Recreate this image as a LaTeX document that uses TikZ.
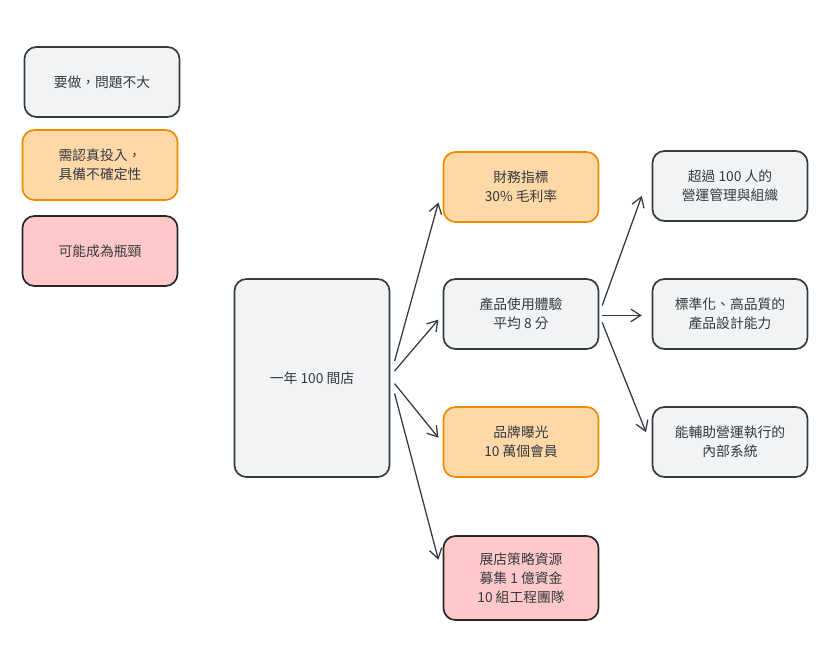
\documentclass[tikz,border=0pt]{standalone}
\usepackage{fontspec}
\newfontfamily\cjk{Noto Sans CJK TC}
\usetikzlibrary{positioning,arrows.meta}

\definecolor{ink}{HTML}{343A40}
\definecolor{grayfill}{HTML}{F1F3F5}
\definecolor{orangefill}{HTML}{FFD8A8}
\definecolor{orangeline}{HTML}{F08C00}
\definecolor{pinkfill}{HTML}{FFC9C9}

\tikzset{
  card/.style={draw=ink, line width=1.2pt, rounded corners=0.3cm, fill=grayfill,
    minimum width=3.875cm, minimum height=1.75cm, align=center, text=ink,
    font=\cjk\fontsize{9.8}{13.5}\selectfont, inner sep=0pt},
  warm/.style={card, draw=orangeline, fill=orangefill},
  risk/.style={card, draw=black!85, fill=pinkfill},
  arr/.style={draw=ink, line width=0.9pt, -{Straight Barb[length=7pt,width=9pt]}},
}

\begin{document}
\begin{tikzpicture}[x=0.025cm,y=-0.025cm]
  \useasboundingbox (0,0) rectangle (830,657);

  % legend
  \node[card] (ok)    at (102,82)  {要做，問題不大};
  \node[warm] (hard)  at (100,165) {需認真投入，\\具備不確定性};
  \node[risk] (block) at (100,251) {可能成為瓶頸};

  % goal and its needs
  \node[card, minimum height=4.95cm] (goal) at (312,378) {一年 100 間店};
  \node[warm] (fin)   at (521,187) {財務指標\\30\% 毛利率};
  \node[card] (exp)   at (521,314) {產品使用體驗\\平均 8 分};
  \node[warm] (brand) at (521,442) {品牌曝光\\10 萬個會員};
  \node[risk, minimum height=2.1cm] (res) at (521,578) {展店策略資源\\募集 1 億資金\\10 組工程團隊};

  \node[card] (org)   at (730,186) {超過 100 人的\\營運管理與組織};
  \node[card] (des)   at (730,314) {標準化、高品質的\\產品設計能力};
  \node[card] (sys)   at (730,442) {能輔助營運執行的\\內部系統};

  \draw[arr] ([xshift=3pt,yshift=12pt]goal.east)  -- ([xshift=-3pt,yshift=-11pt]fin.west);
  \draw[arr] ([xshift=3pt,yshift=5pt]goal.east)   -- ([xshift=-3pt,yshift=-4pt]exp.west);
  \draw[arr] ([xshift=3pt,yshift=-4pt]goal.east)  -- ([xshift=-3pt,yshift=3pt]brand.west);
  \draw[arr] ([xshift=3pt,yshift=-11pt]goal.east) -- ([xshift=-3pt,yshift=13pt]res.west);

  \draw[arr] ([xshift=2pt,yshift=6pt]exp.east)    -- ([xshift=-7pt,yshift=-7pt]org.west);
  \draw[arr] ([xshift=2pt,yshift=-1pt]exp.east)   -- ([xshift=-7pt,yshift=-1pt]des.west);
  \draw[arr] ([xshift=2pt,yshift=-6pt]exp.east)   -- ([xshift=-4pt,yshift=7pt]sys.west);
\end{tikzpicture}
\end{document}
